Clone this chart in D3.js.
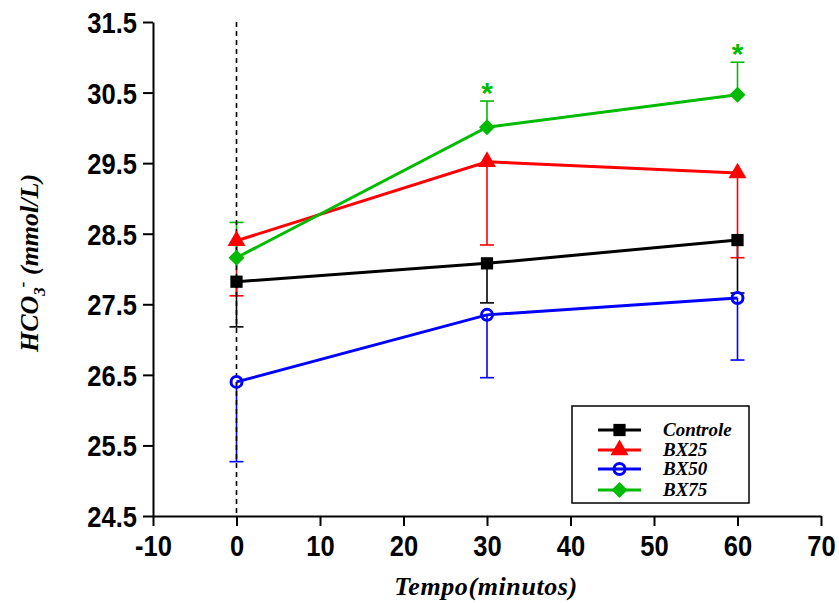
<!DOCTYPE html>
<html><head><meta charset="utf-8">
<script src="https://cdn.jsdelivr.net/npm/d3@7"></script>
<style>body{margin:0;background:#fff}</style>
</head><body><svg id="c" width="839" height="603"></svg>
<script>
const times = [0, 30, 60];
const seriesNames = ["Controle", "BX25", "BX50", "BX75"];
const seriesColors = ["#000000", "#ff0000", "#0000ff", "#00bb00"];
const seriesSymbols = ["square", "triangle", "circle", "diamond"];
const controleMean = [27.82, 28.08, 28.41];
const controleErr = [-0.64, -0.56, -0.75];
const bx25Mean = [28.40, 29.52, 29.36];
const bx25Err = [-0.78, -1.18, -1.20];
const bx50Mean = [26.40, 27.35, 27.59];
const bx50Err = [-1.13, -0.89, -0.88];
const bx75Mean = [28.16, 30.01, 30.47];
const bx75Err = [0.50, 0.37, 0.46];
const starTimes = [30, 60];
const xTicks = [-10, 0, 10, 20, 30, 40, 50, 60, 70];
const yTicks = [24.5, 25.5, 26.5, 27.5, 28.5, 29.5, 30.5, 31.5];

const means = [controleMean, bx25Mean, bx50Mean, bx75Mean];
const errs = [controleErr, bx25Err, bx50Err, bx75Err];

const svg = d3.select("#c");
const x = d3.scaleLinear().domain([-10, 70]).range([153, 821]);
const y = d3.scaleLinear().domain([24.5, 31.5]).range([516, 22]);

// axes
const xa = svg.append("g").attr("transform", "translate(0,516)")
  .call(d3.axisBottom(x).tickValues(xTicks).tickSize(10).tickSizeOuter(0).tickFormat(d => String(d)));
const ya = svg.append("g").attr("transform", "translate(153,0)")
  .call(d3.axisLeft(y).tickValues(yTicks).tickSize(10).tickSizeOuter(0).tickFormat(d3.format(".1f")));
[xa, ya].forEach(a => {
  a.select(".domain").attr("stroke", "#000").attr("stroke-width", 2);
  a.selectAll(".tick line").attr("stroke", "#000").attr("stroke-width", 2);
  a.selectAll("text").attr("fill", "#000").attr("font-family", "Liberation Sans, Arial, sans-serif")
    .attr("font-weight", "bold").attr("font-size", 29);
});
xa.selectAll(".tick text").attr("y", 0).attr("dy", 0).attr("transform", "translate(0,40) scale(0.88,1)");
ya.selectAll(".tick text").attr("x", 0).attr("dy", 0).attr("transform", "translate(-16,10.5) scale(0.88,1)");

// error bars
means.forEach((m, si) => {
  const g = svg.append("g").attr("stroke", seriesColors[si]).attr("stroke-width", 1.6);
  times.forEach((t, i) => {
    const cx = x(t), y0 = y(m[i]), y1 = y(m[i] + errs[si][i]);
    g.append("line").attr("x1", cx).attr("x2", cx).attr("y1", y0).attr("y2", y1);
    g.append("line").attr("x1", cx - 7).attr("x2", cx + 7).attr("y1", y1).attr("y2", y1);
  });
});

// dashed line at 0
svg.append("line").attr("x1", x(0)).attr("x2", x(0)).attr("y1", y(31.5)).attr("y2", y(24.5))
  .attr("stroke", "#000").attr("stroke-width", 1.6).attr("stroke-dasharray", "5,4");

const line = d3.line().x((d, i) => x(times[i])).y(d => y(d));
const symMap = {square: d3.symbolSquare, triangle: d3.symbolTriangle};
const symSize = {square: 150, triangle: 140};

function drawMarker(g, type, color, cx, cy) {
  if (type === "circle") {
    g.append("circle").attr("cx", cx).attr("cy", cy).attr("r", 5.5)
      .attr("fill", "none").attr("stroke", color).attr("stroke-width", 3);
  } else if (type === "diamond") {
    g.append("path").attr("d", "M0,-8L8,0L0,8L-8,0Z")
      .attr("transform", `translate(${cx},${cy})`).attr("fill", color);
  } else {
    g.append("path").attr("d", d3.symbol().type(symMap[type]).size(symSize[type]))
      .attr("transform", `translate(${cx},${cy})`).attr("fill", color);
  }
}

means.forEach((m, si) => {
  svg.append("path").datum(m).attr("d", line).attr("fill", "none")
    .attr("stroke", seriesColors[si]).attr("stroke-width", 3);
});
means.forEach((m, si) => {
  const g = svg.append("g");
  times.forEach((t, i) => drawMarker(g, seriesSymbols[si], seriesColors[si], x(t), y(m[i])));
});

// stars
starTimes.forEach(t => {
  const i = times.indexOf(t);
  svg.append("text").attr("x", x(t)).attr("y", y(bx75Mean[i] + bx75Err[i]) + 2)
    .attr("text-anchor", "middle").attr("fill", "#00bb00").attr("font-family", "Liberation Sans, Arial, sans-serif")
    .attr("font-size", 30).attr("font-weight", "bold").text("*");
});

// legend
const lg = svg.append("g");
lg.append("rect").attr("x", 572).attr("y", 406).attr("width", 177).attr("height", 97)
  .attr("fill", "#fff").attr("stroke", "#000").attr("stroke-width", 1.5);
const legY = [430, 450, 469, 490];
seriesNames.forEach((n, si) => {
  const ly = legY[si];
  lg.append("line").attr("x1", 598).attr("x2", 641).attr("y1", ly).attr("y2", ly)
    .attr("stroke", seriesColors[si]).attr("stroke-width", 3);
  drawMarker(lg, seriesSymbols[si], seriesColors[si], 619.5, ly);
  lg.append("text").attr("x", 663).attr("y", ly + 6).attr("font-family", "Liberation Serif, Times New Roman, serif")
    .attr("font-style", "italic").attr("font-weight", "bold").attr("font-size", 19).attr("fill", "#000").text(n);
});

// axis titles
svg.append("text").attr("x", 486).attr("y", 595).attr("text-anchor", "middle")
  .attr("font-family", "Liberation Serif, Times New Roman, serif").attr("font-style", "italic")
  .attr("font-weight", "bold").attr("font-size", 26).attr("letter-spacing", 0.6).text("Tempo(minutos)");

const yt = svg.append("text").attr("transform", "translate(38,263) rotate(-90)").attr("text-anchor", "middle")
  .attr("font-family", "Liberation Serif, Times New Roman, serif").attr("font-style", "italic")
  .attr("font-weight", "bold").attr("font-size", 26);
yt.append("tspan").text("HCO");
yt.append("tspan").attr("font-size", 17).attr("dy", 7).text("3");
yt.append("tspan").attr("font-size", 17).attr("dy", -17).text("-");
yt.append("tspan").attr("dy", 10).text(" (mmol/L)");
</script></body></html>
